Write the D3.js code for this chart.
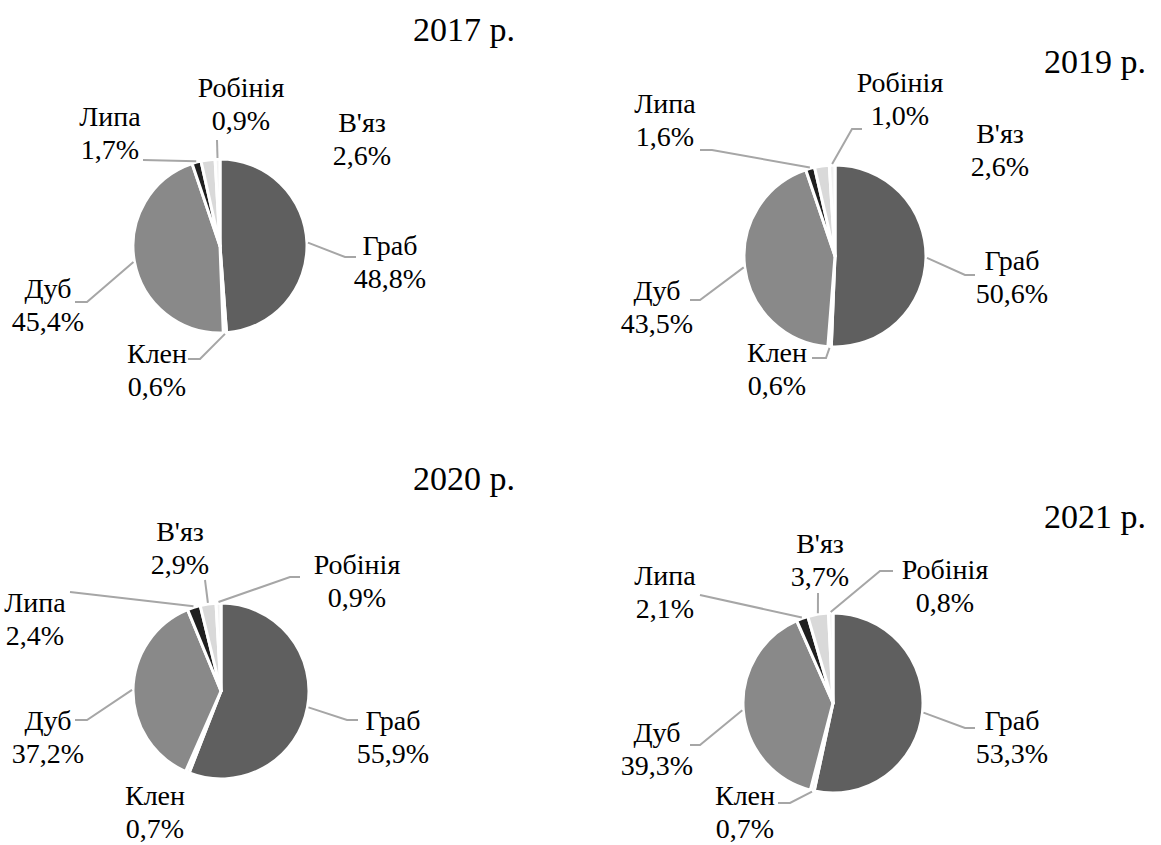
<!DOCTYPE html>
<html>
<head>
<meta charset="utf-8">
<script src="https://cdn.jsdelivr.net/npm/d3@7"></script>
<style>
  html, body { margin: 0; padding: 0; background: #ffffff; }
  svg { display: block; }
</style>
</head>
<body>
<svg id="chart" width="1161" height="845"></svg>
<script>
// ---------- DATA ----------
const species = ["Граб", "Клен", "Дуб", "Липа", "В'яз", "Робінія"];
const years = ["2017 р.", "2019 р.", "2020 р.", "2021 р."];
const values2017 = [48.8, 0.6, 45.4, 1.7, 2.6, 0.9];
const values2019 = [50.6, 0.6, 43.5, 1.6, 2.6, 1.0];
const values2020 = [55.9, 0.7, 37.2, 2.4, 2.9, 0.9];
const values2021 = [53.3, 0.7, 39.3, 2.1, 3.7, 0.8];
const sliceColors = ["#5f5f5f", "#f2f2f2", "#898989", "#1f1f1f", "#d9d9d9", "#f2f2f2"];

// ---------- LAYOUT ----------
const FONT = "'Liberation Serif', 'Times New Roman', Times, 'DejaVu Serif', serif";
const layouts = [
  { cx: 220, cy: 246, r: 87, title: [464, 41],
    labels: [
      { x: 390, y: 255, pts: [[345, 257], [356, 257]] },
      { x: 157, y: 363, pts: [[200, 359], [188, 359]] },
      { x: 48,  y: 298, pts: [[87, 302], [75, 302]] },
      { x: 110, y: 126, pts: [[143, 160]] },
      { x: 362, y: 132, pts: null },
      { x: 241, y: 97,  pts: [[217, 140]] }
    ] },
  { cx: 835, cy: 256, r: 91, title: [1095, 73],
    labels: [
      { x: 1012, y: 270, pts: [[965, 275], [975, 275]] },
      { x: 777,  y: 362, pts: [[826, 358], [812, 358]] },
      { x: 657,  y: 300, pts: [[700, 300], [690, 300]] },
      { x: 665,  y: 113, pts: [[712, 150], [700, 150]] },
      { x: 1000, y: 143, pts: null },
      { x: 900,  y: 92,  pts: [[852, 129], [862, 129]] }
    ] },
  { cx: 221, cy: 691, r: 88, title: [464, 490],
    labels: [
      { x: 393, y: 730, pts: [[347, 720], [358, 720]] },
      { x: 155, y: 805, pts: null },
      { x: 48,  y: 730, pts: [[87, 720], [75, 720]] },
      { x: 35,  y: 612, pts: [[70, 592]] },
      { x: 180, y: 541, pts: [[205, 580]] },
      { x: 357, y: 574, pts: [[290, 577], [300, 577]] }
    ] },
  { cx: 833, cy: 703, r: 90, title: [1095, 528],
    labels: [
      { x: 1012, y: 730, pts: [[965, 728], [975, 728]] },
      { x: 745,  y: 805, pts: [[790, 803], [778, 803]] },
      { x: 657,  y: 742, pts: [[700, 745], [690, 745]] },
      { x: 665,  y: 585, pts: [[700, 595]] },
      { x: 820,  y: 553, pts: [[818, 593]] },
      { x: 945,  y: 579, pts: [[880, 571], [893, 571]] }
    ] }
];

const allValues = [values2017, values2019, values2020, values2021];
const fmt = v => d3.format(".1f")(v).replace(".", ",") + "%";

const svg = d3.select("#chart");
const pie = d3.pie().sort(null).value(d => d);
const lineGen = d3.line();

allValues.forEach((vals, i) => {
  const L = layouts[i];
  const g = svg.append("g");
  const arcs = pie(vals);
  const arc = d3.arc().innerRadius(0).outerRadius(L.r);
  const edge = d3.arc().innerRadius(L.r + 1).outerRadius(L.r + 1);

  const pg = g.append("g").attr("transform", `translate(${L.cx},${L.cy})`);
  pg.selectAll("path.slice")
    .data(arcs)
    .join("path")
    .attr("class", "slice")
    .attr("d", arc)
    .attr("fill", (d, k) => sliceColors[k])
    .attr("stroke", "#ffffff")
    .attr("stroke-width", 3)
    .attr("stroke-linejoin", "round");

  // leader lines
  arcs.forEach((d, k) => {
    const lab = L.labels[k];
    if (!lab.pts) return;
    const c = edge.centroid(d);
    const pts = [[L.cx + c[0], L.cy + c[1]]].concat(lab.pts);
    g.append("path")
      .attr("d", lineGen(pts))
      .attr("fill", "none")
      .attr("stroke", "#a6a6a6")
      .attr("stroke-width", 2);
  });

  // labels
  arcs.forEach((d, k) => {
    const lab = L.labels[k];
    const t = g.append("text")
      .attr("x", lab.x)
      .attr("y", lab.y)
      .attr("text-anchor", "middle")
      .attr("font-family", FONT)
      .attr("font-size", 28)
      .attr("fill", "#000");
    t.append("tspan").attr("x", lab.x).attr("y", lab.y).text(species[k]);
    t.append("tspan").attr("x", lab.x).attr("y", lab.y + 33).text(fmt(vals[k]));
  });

  // title
  g.append("text")
    .attr("x", L.title[0])
    .attr("y", L.title[1])
    .attr("text-anchor", "middle")
    .attr("font-family", FONT)
    .attr("font-size", 34)
    .attr("fill", "#000")
    .text(years[i]);
});
</script>
</body>
</html>
